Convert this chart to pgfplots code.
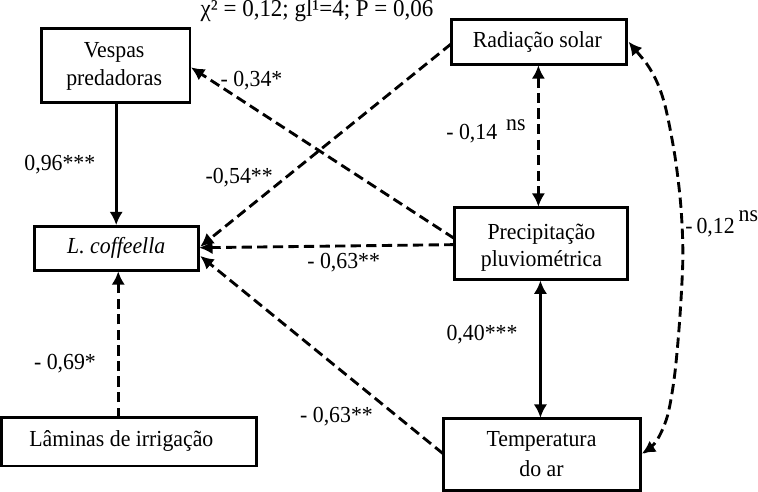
\documentclass[border=0pt]{standalone}
\usepackage{fontspec}
\setmainfont{Liberation Serif}[FakeStretch=0.95]
\usepackage{pgfplots}
\pgfplotsset{compat=1.18}
\usetikzlibrary{arrows.meta}
\begin{document}
\begin{tikzpicture}
\begin{axis}[scale only axis, width=379pt, height=245pt,
  xmin=0, xmax=758, ymin=0, ymax=490, y dir=reverse,
  hide axis, clip=false,
  every axis plot/.append style={no markers, black, line width=1.4pt},
  dsh/.style={dash pattern=on 5pt off 2.6pt},
  ar/.style={-{Latex[length=6.5pt,width=6.5pt]}},
  br/.style={{Latex[length=6.5pt,width=6.5pt]}-{Latex[length=6.5pt,width=6.5pt]}},
  ]
\tikzset{bx/.style={line width=1.4pt}, lb/.style={font=\fontsize{11.2}{13}\selectfont, inner sep=0pt}}
% boxes
\draw[bx] (axis cs:52,37) rectangle (axis cs:197,109);
\draw[bx] (axis cs:45,230) rectangle (axis cs:205,273);
\draw[bx] (axis cs:13,417) rectangle (axis cs:262,464);
\draw[bx] (axis cs:452,28) rectangle (axis cs:623,72);
\draw[bx] (axis cs:455,212) rectangle (axis cs:624,282);
\draw[bx] (axis cs:444,418) rectangle (axis cs:637,488);
% box text
\node[lb] at (axis cs:123,60) {Vespas};
\node[lb] at (axis cs:123,87) {predadoras};
\node[lb] at (axis cs:125,251) {\itshape L. coffeella};
\node[lb] at (axis cs:130,440) {Lâminas de irrigação};
\node[lb] at (axis cs:536,50) {Radiação solar};
\node[lb] at (axis cs:540,238) {Precipitação};
\node[lb] at (axis cs:540,264) {pluviométrica};
\node[lb] at (axis cs:540,440) {Temperatura};
\node[lb] at (axis cs:540,467) {do ar};
% title
\node[lb, font=\fontsize{11.8}{13}\selectfont] at (axis cs:321,20) {χ² = 0,12; gl¹=4; P = 0,06};
% arrows
\addplot[ar] coordinates {(125,110) (125,229)};
\addplot[ar,dsh] coordinates {(127,417) (127,274)};
\addplot[br,dsh] coordinates {(537,73) (537,211)};
\addplot[br] coordinates {(539,283) (539,417)};
\addplot[ar,dsh] coordinates {(452,52) (207,250)};
\addplot[ar,dsh] coordinates {(455,242) (198,75)};
\addplot[ar,dsh] coordinates {(455,248) (206,251)};
\addplot[ar,dsh] coordinates {(444,452) (207,259)};
\addplot[br,dsh,smooth] coordinates {(625,50) (648,80) (660,110) (670,160) (676,210) (678,260) (675,320) (670,375) (663,415) (652,440) (638,452)};
% coefficient labels
\node[lb] at (axis cs:70,170) {0,96***};
\node[lb] at (axis cs:257,88) {- 0,34*};
\node[lb] at (axis cs:245,183) {-0,54**};
\node[lb] at (axis cs:347,266) {- 0,63**};
\node[lb] at (axis cs:472,140) {- 0,14};
\node[lb] at (axis cs:515,131) {ns};
\node[lb, anchor=east] at (axis cs:729,231) {-\,0,12};
\node[lb, anchor=west] at (axis cs:732,220) {ns};
\node[lb] at (axis cs:482,336) {0,40***};
\node[lb] at (axis cs:75,364) {- 0,69*};
\node[lb] at (axis cs:340,416) {- 0,63**};
\end{axis}
\end{tikzpicture}
\end{document}
